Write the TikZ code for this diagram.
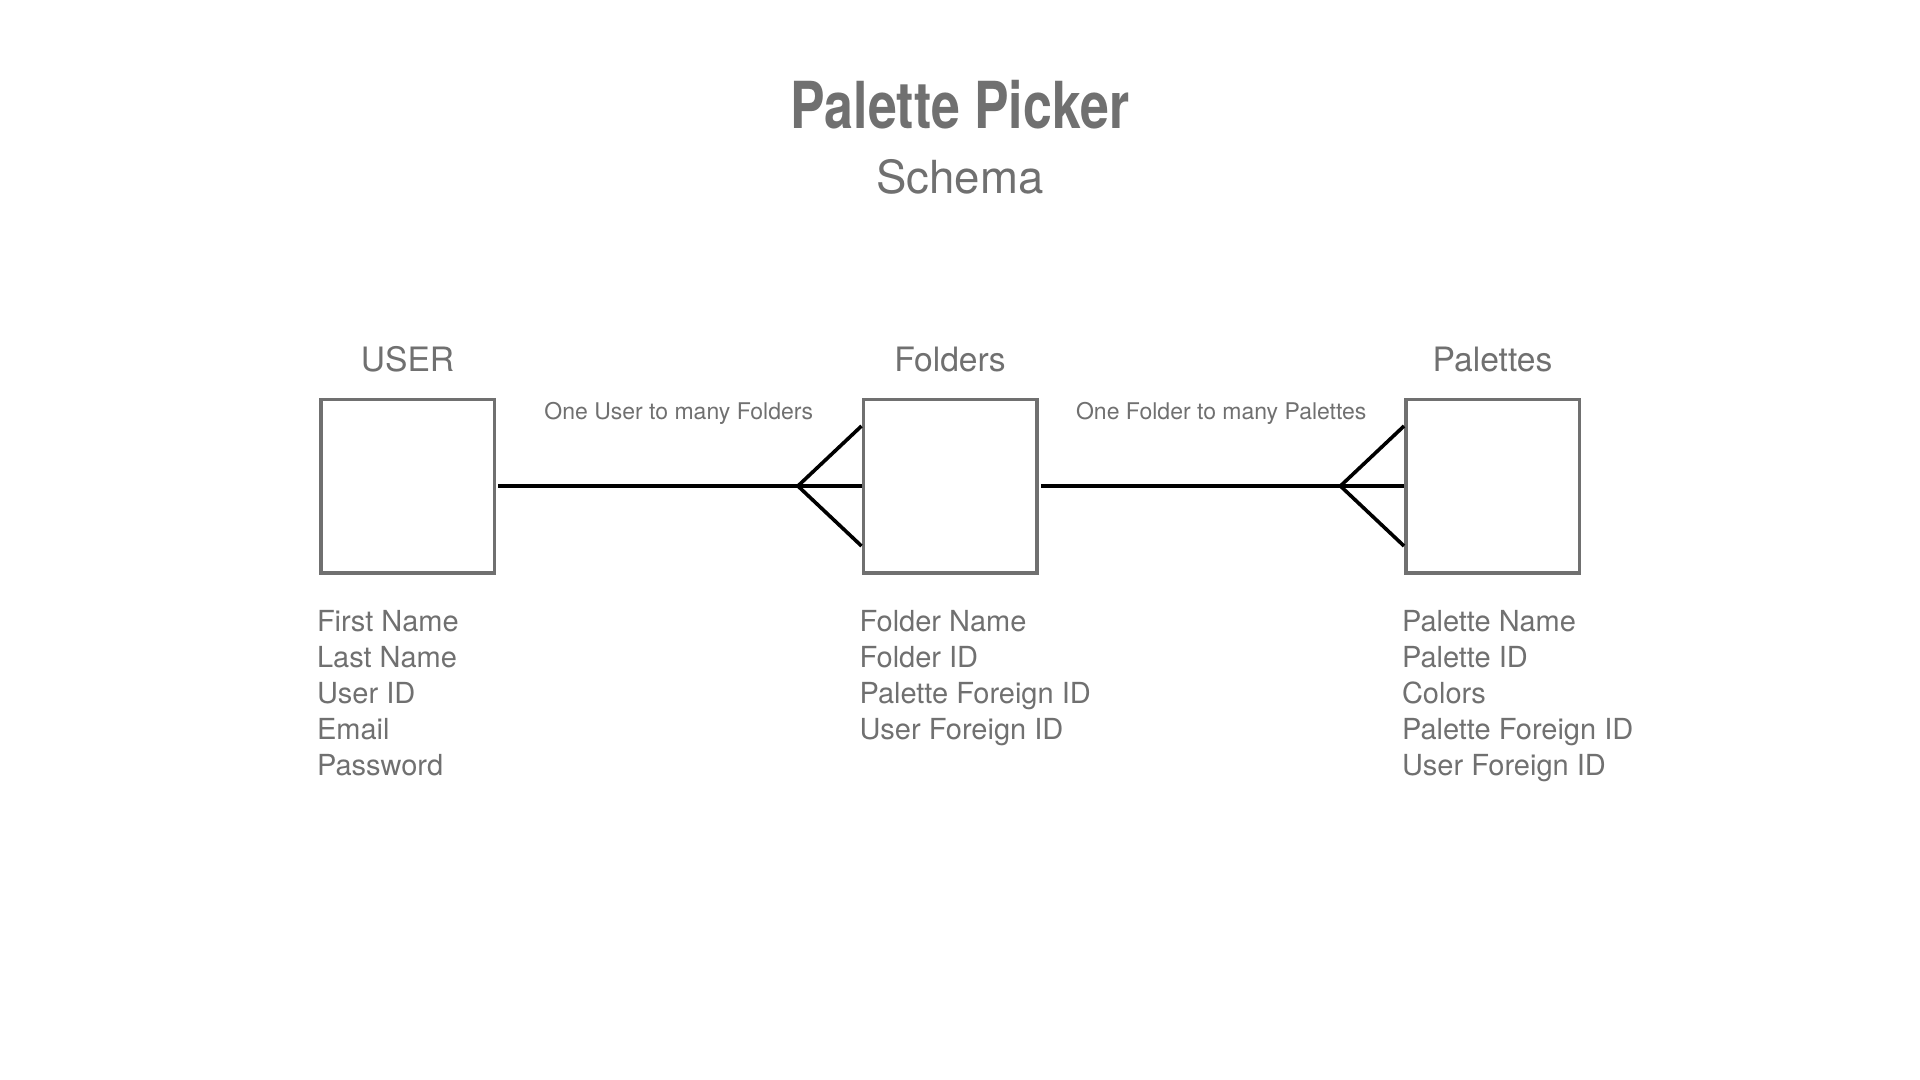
\documentclass[tikz,border=0pt]{standalone}
\usepackage{fontspec}
\usepackage{xcolor}
\usepackage{tikz}
\usetikzlibrary{positioning}
\setmainfont{TeX Gyre Heros}
\newfontfamily\headfont[FakeStretch=0.8]{TeX Gyre Heros}
\definecolor{inkgray}{RGB}{112,112,112}

\begin{document}
\begin{tikzpicture}[
    x=0.5pt, y=-0.5pt,
    entity/.style={draw=inkgray, line width=1.75pt, minimum size=86.75pt, inner sep=0pt},
    entname/.style={text=inkgray, font=\fontsize{16.8}{20}\selectfont, inner sep=0pt},
    attrs/.style={text=inkgray, font=\fontsize{14.5}{18}\selectfont, align=left, inner sep=0pt},
    rellabel/.style={text=inkgray, font=\fontsize{11.5}{14}\selectfont, inner sep=0pt},
    rel/.style={line width=1.8pt, black}
]
\useasboundingbox (0,0) rectangle (1920,1080);

\node[text=inkgray, font=\headfont\bfseries\fontsize{32.4}{38}\selectfont, anchor=base] (title) at (960,128.6) {Palette Picker};
\node[text=inkgray, font=\fontsize{22.8}{27}\selectfont, anchor=base] (subtitle) at (960,193.5) {Schema};

\node[entity] (user) at (407.5,486) {};
\node[entity, right=182.75pt of user] (folders) {};
\node[entity, right=182.75pt of folders] (palettes) {};

\node[entname, above=13.2pt of user, anchor=base] (usertitle) {USER};
\node[entname, above=13.2pt of folders, anchor=base] (folderstitle) {Folders};
\node[entname, above=13.2pt of palettes, anchor=base] (palettestitle) {Palettes};

\node[attrs, below=17.6pt of user.south west, anchor=north west, xshift=-1.2pt] (userattrs)
    {First Name\\Last Name\\User ID\\Email\\Password};
\node[attrs, below=17.6pt of folders.south west, anchor=north west, xshift=-1.2pt] (folderattrs)
    {Folder Name\\Folder ID\\Palette Foreign ID\\User Foreign ID};
\node[attrs, below=17.6pt of palettes.south west, anchor=north west, xshift=-1.2pt] (paletteattrs)
    {Palette Name\\Palette ID\\Colors\\Palette Foreign ID\\User Foreign ID};

% one to many
\draw[rel, shorten <=1.2pt] (user) -- node[rellabel, anchor=base, yshift=33.5pt] {One User to many Folders} (folders);
\draw[rel] ([yshift=30pt]folders.west) -- ([xshift=-31.8pt]folders.west) -- ([yshift=-30pt]folders.west);
\draw[rel, shorten <=1.2pt] (folders) -- node[rellabel, anchor=base, yshift=33.5pt] {One Folder to many Palettes} (palettes);
\draw[rel] ([yshift=30pt]palettes.west) -- ([xshift=-31.8pt]palettes.west) -- ([yshift=-30pt]palettes.west);
\end{tikzpicture}
\end{document}
